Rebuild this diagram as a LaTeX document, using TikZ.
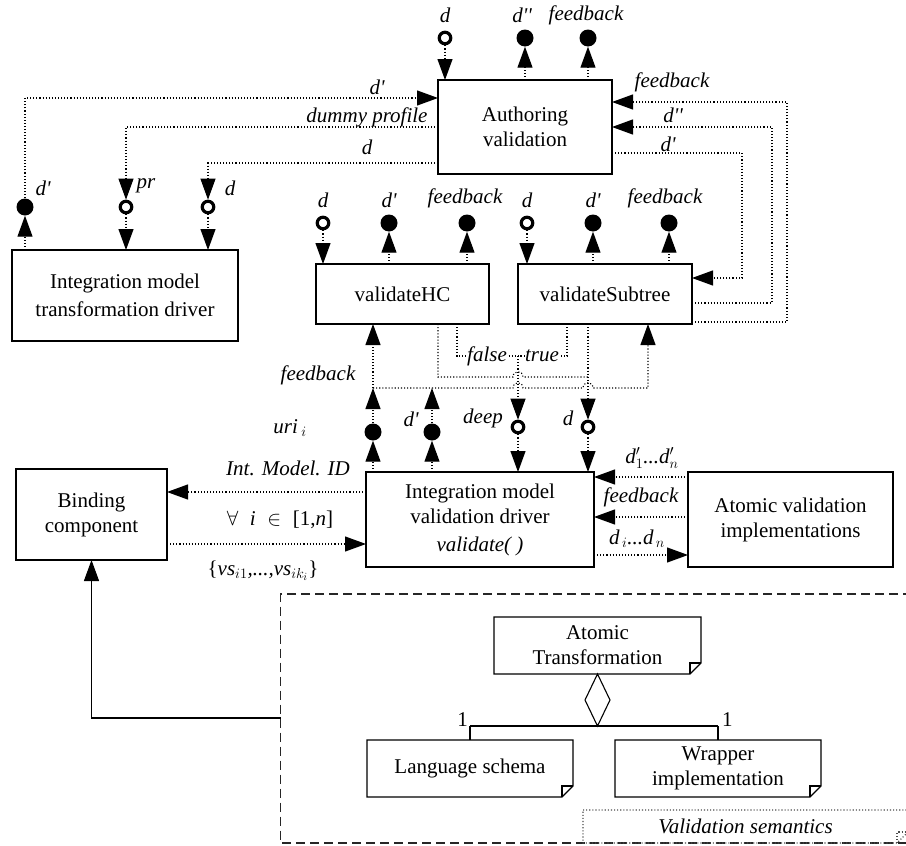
\documentclass[tikz,border=0pt]{standalone}
\usepackage{fontspec}
\setmainfont{Liberation Serif}
\usetikzlibrary{arrows.meta,calc}
\newcommand\notedraw[2][]{%
  \draw[#1] (#2.north west) -- (#2.north east) -- ([yshift=11pt]#2.south east) -- ([xshift=-11pt]#2.south east) -- (#2.south west) -- cycle;
  \draw[#1] ([xshift=-11pt]#2.south east) -- ([xshift=-11pt,yshift=11pt]#2.south east) -- ([yshift=11pt]#2.south east);}
\begin{document}
\begin{tikzpicture}[x=1pt,y=-1pt,
  font=\fontsize{21}{25}\selectfont,
  box/.style={draw, line width=1.1pt, rectangle, inner sep=2pt, outer sep=0pt, align=center},
  notebox/.style={draw=none, rectangle, inner sep=2pt, outer sep=0pt, align=center},
  lab/.style={font=\fontsize{21}{25}\selectfont\itshape, inner sep=0.5pt},
  dl/.style={line width=1.1pt, dash pattern=on 1.1pt off 2pt},
  tip/.tip={Triangle[length=21pt,width=15pt]},
  dla/.style={dl, -tip},
  sla/.style={line width=1.1pt, -tip},
  oc/.style={circle, draw, line width=3.2pt, minimum size=11.5pt, inner sep=0pt, fill=white},
  fc/.style={circle, fill=black, minimum size=17pt, inner sep=0pt},
  gdash/.style={line width=1.1pt, black!85, dash pattern=on 9pt off 5pt},
  nline/.style={line width=1.1pt}]
\useasboundingbox (0,0) rectangle (906,846);

% ---------------- boxes
\node[box, minimum width=174pt, minimum height=94pt] (A) at (525,127) {Authoring\\validation};
\node[box, minimum width=226pt, minimum height=91pt] (T) at (125,295.5) {Integration model\\[3pt]transformation driver};
\node[box, minimum width=173pt, minimum height=60pt] (H) at (402.5,294) {validateHC};
\node[box, minimum width=174pt, minimum height=60pt] (S) at (605,294) {validateSubtree};
\node[box, minimum width=228pt, minimum height=95pt] (D) at (480,519.5) {Integration model\\validation driver\\[3pt]\textit{validate( )}};
\node[box, minimum width=151pt, minimum height=91pt] (B) at (91.5,514.5) {Binding\\component};
\node[box, minimum width=205pt, minimum height=95pt] (V) at (790.5,519.5) {Atomic validation\\implementations};

% ---------------- Authoring validation top
\node[oc] (a1) at (445,38) {};
\node[fc] (a2) at (525,38) {};
\node[fc] (a3) at (588,38) {};
\draw[dla] (a1) -- (a1 |- A.north);
\draw[dla] (a2 |- A.north) -- (a2);
\draw[dla] (a3 |- A.north) -- (a3);
\node[lab] (L1) at (445,15) {d};
\node[lab] (L2) at (522,15) {d\textquotesingle\textquotesingle};
\node[lab] (L3) at (586,15) {feedback};

% ---------------- transformation driver top
\node[fc] (t1) at (25,207) {};
\node[oc] (t2) at (126,207) {};
\node[oc] (t3) at (208,207) {};
\draw[dla] (t1 |- T.north) -- (t1);
\draw[dla] (t2) -- (t2 |- T.north);
\draw[dla] (t3) -- (t3 |- T.north);
\coordinate (k1) at (25,98);
\coordinate (k2) at (126,127);
\coordinate (k3) at (208,163);
\draw[dla] (t1) -- (k1) -- (k1 -| A.west);
\draw[dla] (k2 -| A.west) -- (k2) -- (t2);
\draw[dla] (k3 -| A.west) -- (k3) -- (t3);
\node[lab] (L4) at (377,87) {d\textquotesingle};
\node[lab] (L5) at (367,117) {dummy profile};
\node[lab] (L6) at (367,147) {d};
\node[lab] (L10) at (43,188) {d\textquotesingle};
\node[lab] (L11) at (146,186) {pr};
\node[lab] (L12) at (230,188) {d};

% ---------------- right side of Authoring validation
\coordinate (r1) at (787,102);
\coordinate (r1b) at (787,322);
\coordinate (r2) at (772,127);
\coordinate (r2b) at (772,303);
\coordinate (r3) at (742,153);
\coordinate (r3b) at (742,278);
\draw[dla] (r1b -| S.east) -- (r1b) -- (r1) -- (r1 -| A.east);
\draw[dla] (r2b -| S.east) -- (r2b) -- (r2) -- (r2 -| A.east);
\draw[dla] (r3 -| A.east) -- (r3) -- (r3b) -- (r3b -| S.east);
\node[lab] (L7) at (672,82) {feedback};
\node[lab] (L8) at (673,115) {d\textquotesingle\textquotesingle};
\node[lab] (L9) at (668,144) {d\textquotesingle};

% ---------------- validateHC / validateSubtree top
\node[oc] (h1) at (323,223) {};
\node[fc] (h2) at (389,223) {};
\node[fc] (h3) at (467,223) {};
\node[oc] (s1) at (527,223) {};
\node[fc] (s2) at (593,223) {};
\node[fc] (s3) at (669,223) {};
\draw[dla] (h1) -- (h1 |- H.north);
\draw[dla] (h2 |- H.north) -- (h2);
\draw[dla] (h3 |- H.north) -- (h3);
\draw[dla] (s1) -- (s1 |- S.north);
\draw[dla] (s2 |- S.north) -- (s2);
\draw[dla] (s3 |- S.north) -- (s3);
\node[lab] (L13) at (323,200) {d};
\node[lab] (L14) at (389,200) {d\textquotesingle};
\node[lab] (L15) at (465,198) {feedback};
\node[lab] (L16) at (527,200) {d};
\node[lab] (L17) at (593,200) {d\textquotesingle};
\node[lab] (L18) at (665,198) {feedback};

% ---------------- driver top ports
\node[fc] (u1) at (373,432) {};
\node[fc] (u2) at (432,432) {};
\node[oc] (u3) at (518,427) {};
\node[oc] (u4) at (588,427) {};
\draw[dla] (u1 |- D.north) -- (u1);
\draw[dla] (u2 |- D.north) -- (u2);
\draw[dla] (u3) -- (u3 |- D.north);
\draw[dla] (u4) -- (u4 |- D.north);
\coordinate (bus1) at (373,388);
\coordinate (bus2) at (432,388);
\coordinate (bus3) at (648,388);
\draw[dla] (u1) -- (bus1);
\draw[dla] (u2) -- (bus2);
\draw[dla] (bus1) -- (bus1 |- H.south);
\draw[dla] (bus1) -- ($(bus1 -| u3)+(-5,0)$) .. controls ($(bus1 -| u3)+(-5,-7)$) and ($(bus1 -| u3)+(5,-7)$) .. ($(bus1 -| u3)+(5,0)$)
  -- ($(bus1 -| u4)+(-5,0)$) .. controls ($(bus1 -| u4)+(-5,-7)$) and ($(bus1 -| u4)+(5,-7)$) .. ($(bus1 -| u4)+(5,0)$)
  -- (bus3) -- (bus3 |- S.south);
% false / true
\coordinate (j) at (518,356);
\coordinate (hf) at (457,356);
\coordinate (st) at (567,356);
\draw[dl] (hf |- H.south) -- (hf) -- (j);
\draw[dl] (st |- S.south) -- (st) -- (j);
\draw[dla] (j) -- (u3);
\node[lab, fill=white] (L19) at (487,356) {false};
\node[lab, fill=white] (L20) at (542,356) {true};
% d from validateHC
\coordinate (m) at (438,377);
\draw[dl] (m |- H.south) -- (m) -- ($(m -| u3)+(-5,0)$) .. controls ($(m -| u3)+(-5,-7)$) and ($(m -| u3)+(5,-7)$) .. ($(m -| u3)+(5,0)$) -- (m -| u4);
\draw[dla] (u4 |- S.south) -- (u4);
\node[lab] (L21) at (318,375) {feedback};
\node[lab] (L22) at (290,428) {uri\,$_{i}$};
\node[lab] (L23) at (411,419) {d\textquotesingle};
\node[lab] (L24) at (483,418) {deep};
\node[lab] (L25) at (568,418) {d};

% ---------------- driver right
\coordinate (e1) at (640,477);
\coordinate (e2) at (640,517);
\coordinate (e3) at (640,555);
\draw[dla] (V.west |- e1) -- (D.east |- e1);
\draw[dla] (V.west |- e2) -- (D.east |- e2);
\draw[dla] (D.east |- e3) -- (V.west |- e3);
\node[lab] (L29) at (652,458) {d$'_{1}$...d$'_{n}$};
\node[lab] (L30) at (641,497) {feedback};
\node[lab] (L31) at (637,539) {d$_{\,i}$...d$_{\,n}$};

% ---------------- binding
\coordinate (bb1) at (300,492);
\coordinate (bb2) at (300,544);
\draw[dla] (D.west |- bb1) -- (B.east |- bb1);
\draw[dla] (B.east |- bb2) -- (D.west |- bb2);
\node[lab] (L26) at (288,468) {Int. Model. ID};
\node[inner sep=0.5pt] (L27) at (280,520) {$\forall$\;\;\textit{i}\;\;$\in$\;\;[1,\textit{n}]};
\node[lab] (L28) at (263,571) {\upshape\{\itshape vs$_{i1}$,...,vs$_{ik_i}$\upshape\}};

% ---------------- dashed region
\coordinate (g1) at (280.5,594);
\coordinate (g2) at (280.5,843);
\draw[gdash] (912,594) -- (g1) -- (g2) -- (912,843);
\coordinate (q) at (91.5,718);
\draw[sla] (g1 |- q) -- (q) -- (q |- B.south);

\node[notebox, minimum width=207pt, minimum height=57pt] (AT) at (597.5,645.5) {Atomic\\Transformation};
\node[notebox, minimum width=206pt, minimum height=57pt] (LS) at (470,768.5) {Language schema};
\node[notebox, minimum width=206pt, minimum height=57pt] (WI) at (718,768.5) {Wrapper\\implementation};
\node[notebox, minimum width=325pt, minimum height=33pt, font=\fontsize{21}{25}\selectfont\itshape] (VS) at (745.5,826.5) {Validation semantics};
\notedraw[nline]{AT}
\notedraw[nline]{LS}
\notedraw[nline]{WI}
\notedraw[dl, black!70]{VS}

\coordinate (db) at ($(AT.south)+(0,52)$);
\draw[nline, fill=white] (AT.south) -- ++(12.5,26) -- (db) -- ++(-12.5,-26) -- cycle;
\draw[nline] (db -| LS.north) -- (db -| WI.north);
\draw[nline] (db -| LS.north) -- (LS.north);
\draw[nline] (db -| WI.north) -- (WI.north);
\node[anchor=south east, inner sep=0pt] (one1) at ($(db -| LS.north)+(-2,1)$) {1};
\node[anchor=south west, inner sep=0pt] (one2) at ($(db -| WI.north)+(4,1)$) {1};
\end{tikzpicture}
\end{document}
